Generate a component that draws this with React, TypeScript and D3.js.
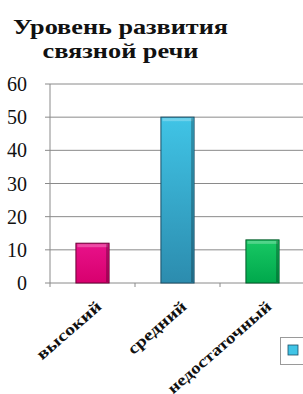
import { scaleBand, scaleLinear } from 'd3'

const categories = ['высокий', 'средний', 'недостаточный']
const values = [12, 50, 13]
const yTicks = [0, 10, 20, 30, 40, 50, 60]
const titleLines = ['Уровень развития', 'связной речи']

const barColors = [
  { top: '#e8128a', bottom: '#d8006e', edge: '#6a0036' },
  { top: '#40c4e6', bottom: '#2c8cae', edge: '#1a4f66' },
  { top: '#18c864', bottom: '#00a84c', edge: '#005a28' },
]

// serif families are tried first, sans is what the sandbox falls back to
const serif = "'Liberation Serif', 'Times New Roman', 'Noto Serif', 'DejaVu Serif', serif"
const titleWidths = [215, 156]
const labelWidths = [80, 72, 132]

export default function App() {
  const width = 303
  const height = 394
  const plotLeft = 50
  const plotTop = 84
  const plotBottom = 283

  const xScale = scaleBand<string>()
    .domain(categories)
    .range([plotLeft, plotLeft + 85 * 3])
    .paddingInner(0.61)
    .paddingOuter(0.305)

  const yScale = scaleLinear().domain([0, 60]).range([plotBottom, plotTop])

  return (
    <svg
      width={width}
      height={height}
      style={{ position: 'fixed', left: 0, top: 0, background: '#fff', fontFamily: serif }}
    >
      <defs>
        {barColors.map((c, i) => (
          <linearGradient key={i} id={`bar-${i}`} x1="0" y1="0" x2="0" y2="1">
            <stop offset="0%" stopColor={c.top} />
            <stop offset="100%" stopColor={c.bottom} />
          </linearGradient>
        ))}
      </defs>

      {titleLines.map((line, i) => (
        <text
          key={line}
          x={120.5}
          y={34 + i * 24}
          textAnchor="middle"
          fontWeight="bold"
          fontSize={21}
          textLength={titleWidths[i]}
          lengthAdjust="spacingAndGlyphs"
          fill="#111"
        >
          {line}
        </text>
      ))}

      {yTicks.map((tick) => (
        <g key={tick}>
          <line
            x1={plotLeft - 5}
            x2={width}
            y1={yScale(tick)}
            y2={yScale(tick)}
            stroke="#8a8a8a"
            strokeWidth={1}
          />
          <text
            x={27}
            y={yScale(tick) + 7}
            textAnchor="end"
            fontSize={20}
            fill="#111"
          >
            {tick}
          </text>
        </g>
      ))}

      <line x1={plotLeft} x2={plotLeft} y1={plotTop} y2={plotBottom + 4} stroke="#8a8a8a" />
      {[1, 2, 3].map((i) => (
        <line
          key={i}
          x1={plotLeft + 85 * i}
          x2={plotLeft + 85 * i}
          y1={plotBottom}
          y2={plotBottom + 4}
          stroke="#8a8a8a"
        />
      ))}

      {categories.map((cat, i) => {
        const x = xScale(cat) ?? 0
        const y = yScale(values[i])
        const w = xScale.bandwidth()
        const h = plotBottom - y
        return (
          <g key={cat}>
            <rect x={x} y={y} width={w} height={h} fill={`url(#bar-${i})`} stroke={barColors[i].edge} strokeWidth={1} />
            <rect x={x + 1.5} y={y + 1} width={w - 3} height={3} fill="#fff" opacity={0.25} />
            <rect x={x + w - 3} y={y + 1} width={2} height={h - 2} fill="#000" opacity={0.25} />
            <text
              transform={`translate(${x + w / 2 + 10},${plotBottom + 25}) rotate(-41)`}
              textAnchor="end"
              fontWeight="bold"
              fontSize={16}
              textLength={labelWidths[i]}
              lengthAdjust="spacingAndGlyphs"
              fill="#111"
            >
              {cat}
            </text>
          </g>
        )
      })}

      <rect x={280.5} y={337.5} width={30} height={27} fill="#fff" stroke="#9a9a9a" />
      <rect x={288} y={345} width={10} height={10} fill={barColors[1].top} stroke={barColors[1].edge} strokeWidth={0.8} />
    </svg>
  )
}
